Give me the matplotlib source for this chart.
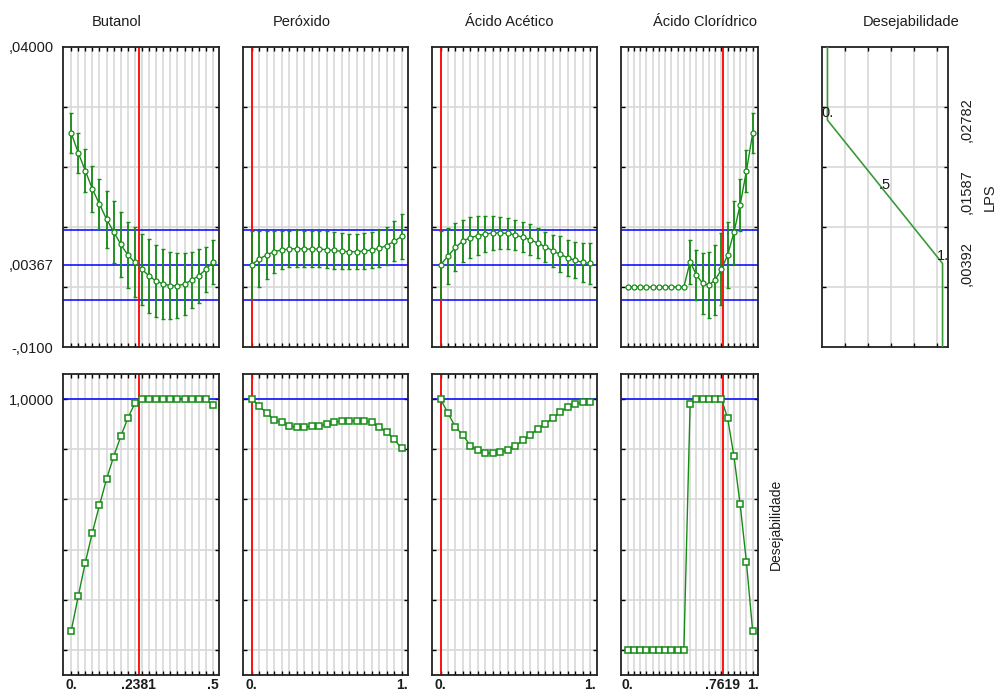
import numpy as np
import matplotlib
matplotlib.use('Agg')
import matplotlib.pyplot as plt

plt.rcParams['font.family'] = ['Liberation Sans', 'DejaVu Sans']

# factor levels (21 grid points per factor)
levels_half = [0.0, 0.025, 0.05, 0.075, 0.1, 0.125, 0.15, 0.175, 0.2, 0.225, 0.25,
               0.275, 0.3, 0.325, 0.35, 0.375, 0.4, 0.425, 0.45, 0.475, 0.5]
levels_one = [0.0, 0.05, 0.1, 0.15, 0.2, 0.25, 0.3, 0.35, 0.4, 0.45, 0.5,
              0.55, 0.6, 0.65, 0.7, 0.75, 0.8, 0.85, 0.9, 0.95, 1.0]

factors = ['Butanol', 'Peróxido', 'Ácido Acético', 'Ácido Clorídrico']
current = [0.2381, 0.0, 0.0, 0.7619]
current_labels = [['0.', '.2381', '.5'], ['0.', '1.'], ['0.', '1.'], ['0.', '.7619', '1.']]
current_ticks = [[0.0, 0.2381, 0.5], [0.0, 1.0], [0.0, 1.0], [0.0, 0.7619, 1.0]]

# predicted LPS for each factor
butanol_lps = [0.02572, 0.02239, 0.01939, 0.01633, 0.01383, 0.01128, 0.00922, 0.00711,
               0.00533, 0.00411, 0.00294, 0.00183, 0.00100, 0.00050, 0.00022, 0.00022,
               0.00050, 0.00117, 0.00183, 0.00294, 0.00417]
peroxido_lps = [0.00367, 0.00467, 0.00533, 0.00589, 0.00617, 0.00633, 0.00639, 0.00633,
                0.00633, 0.00633, 0.00622, 0.00611, 0.00594, 0.00589, 0.00589, 0.00600,
                0.00617, 0.00644, 0.00689, 0.00761, 0.00844]
acetico_lps = [0.00367, 0.00517, 0.00661, 0.00767, 0.00822, 0.00856, 0.00883, 0.00900,
               0.00900, 0.00894, 0.00867, 0.00828, 0.00789, 0.00733, 0.00672, 0.00606,
               0.00544, 0.00489, 0.00444, 0.00411, 0.00394]
cloridrico_lps = [0.0, 0.0, 0.0, 0.0, 0.0, 0.0, 0.0, 0.0, 0.0, 0.0,
                  0.00422, 0.00200, 0.00061, 0.00033, 0.00117, 0.00294, 0.00533,
                  0.00911, 0.01372, 0.01933, 0.02561]

# confidence half-widths
butanol_err = [0.00333, 0.00333, 0.00360, 0.00383, 0.00417, 0.00472, 0.00517, 0.00544,
               0.00556, 0.00583, 0.00594, 0.00611, 0.00600, 0.00578, 0.00556, 0.00539,
               0.00517, 0.00461, 0.00444, 0.00378, 0.00367]
peroxido_err = [0.00572, 0.00472, 0.00400, 0.00350, 0.00317, 0.00306, 0.00306, 0.00306,
                0.00306, 0.00306, 0.00306, 0.00306, 0.00300, 0.00294, 0.00294, 0.00294,
                0.00306, 0.00311, 0.00317, 0.00333, 0.00378]
acetico_err = [0.00572, 0.00472, 0.00400, 0.00344, 0.00344, 0.00322, 0.00294, 0.00278,
               0.00267, 0.00261, 0.00250, 0.00250, 0.00261, 0.00250, 0.00250, 0.00267,
               0.00300, 0.00300, 0.00300, 0.00328, 0.00339]
cloridrico_err = [0.0, 0.0, 0.0, 0.0, 0.0, 0.0, 0.0, 0.0, 0.0, 0.0,
                  0.00367, 0.00417, 0.00511, 0.00544, 0.00589, 0.00600, 0.00556,
                  0.00528, 0.00433, 0.00356, 0.00333]

# desirability of each prediction
butanol_d = [0.074, 0.213, 0.348, 0.468, 0.577, 0.681, 0.771, 0.851, 0.924, 0.984, 1.0,
             1.0, 1.0, 1.0, 1.0, 1.0, 1.0, 1.0, 1.0, 1.0, 0.977]
peroxido_d = [1.0, 0.973, 0.944, 0.917, 0.907, 0.893, 0.888, 0.888, 0.893, 0.893, 0.900,
              0.907, 0.913, 0.913, 0.913, 0.913, 0.907, 0.888, 0.869, 0.840, 0.804]
acetico_d = [1.0, 0.944, 0.888, 0.857, 0.813, 0.797, 0.784, 0.784, 0.789, 0.797, 0.813,
             0.835, 0.857, 0.881, 0.901, 0.924, 0.947, 0.967, 0.980, 0.987, 0.990]
cloridrico_d = [0.0, 0.0, 0.0, 0.0, 0.0, 0.0, 0.0, 0.0, 0.0, 0.0,
                0.98, 1.0, 1.0, 1.0, 1.0, 1.0, 0.924, 0.773, 0.580, 0.350, 0.075]

lps_pred = 0.00367
lps_upper = 0.0095
lps_lower = -0.00216

# desirability function for LPS
desej_func_d = [0.0, 0.0, 1.0, 1.0]
desej_func_lps = [0.04, 0.02782, 0.00392, -0.01]
desej_marks = [(0.0, 0.02782, '0.'), (0.5, 0.01587, '.5'), (1.0, 0.00392, '1.')]

W, H = 997, 695
GREEN = '#168c16'
TXT = '#1c1c1c'
GRID = '#d8d8d8'


def px_axes(fig, x0, y0, x1, y1):
    return fig.add_axes([x0 / W, 1 - y1 / H, (x1 - x0) / W, (y1 - y0) / H])


def frame(ax):
    for s in ax.spines.values():
        s.set_linewidth(1.3)
        s.set_color('#222222')
    ax.set_axisbelow(True)
    ax.grid(True, which='major', color=GRID, lw=1.2)
    ax.tick_params(which='major', direction='in', top=True, right=True,
                   length=3, width=1, color='black', labelleft=False, labelbottom=False)


fig = plt.figure(figsize=(W / 100, H / 100), dpi=100)

cols = [(63.3, 219.3), (243.3, 408.3), (432.3, 596.7), (620.7, 758.3)]
title_x = [117, 302, 509, 705]
levels_all = [levels_half, levels_one, levels_one, levels_one]
lps_all = [butanol_lps, peroxido_lps, acetico_lps, cloridrico_lps]
err_all = [butanol_err, peroxido_err, acetico_err, cloridrico_err]
d_all = [butanol_d, peroxido_d, acetico_d, cloridrico_d]

for i in range(4):
    x0, x1 = cols[i]
    lev = np.array(levels_all[i])
    xmax = lev[-1]

    # top row: predicted LPS
    ax = px_axes(fig, x0, 47, x1, 347)
    frame(ax)
    ax.set_xlim(-0.055 * xmax, 1.045 * xmax)
    ax.set_ylim(-0.01, 0.04)
    ax.set_xticks(lev)
    ax.set_yticks([0.0, 0.01, 0.02, 0.03])
    for yv in (lps_upper, lps_pred, lps_lower):
        ax.axhline(yv, color='#0000ff', lw=1.1, zorder=2)
    ax.axvline(current[i], color='red', lw=1.3, zorder=2)
    y = np.array(lps_all[i])
    e = np.array(err_all[i])
    m = e > 0
    ax.errorbar(lev[m], y[m], yerr=e[m], fmt='none', ecolor=GREEN, elinewidth=1.3,
                capsize=1.6, capthick=1, zorder=3)
    ax.plot(lev, y, color=GREEN, lw=1, marker='o', ms=3.6, mfc='white', mec=GREEN,
            mew=0.9, zorder=4)
    if i == 0:
        ax.yaxis.remove_overlapping_locs = False
        ax.set_yticks([-0.01, lps_pred, 0.04], minor=True)
        ax.set_yticklabels(['-,0100', ',00367', ',04000'], minor=True)
        ax.tick_params(which='minor', length=0, pad=7, labelsize=10.5, labelcolor=TXT)
    fig.text(title_x[i] / W, 1 - 22 / H, factors[i], ha='center', va='center',
             fontsize=10.5, color=TXT)

    # bottom row: desirability
    ax = px_axes(fig, x0, 374, x1, 675)
    frame(ax)
    ax.set_xlim(-0.055 * xmax, 1.045 * xmax)
    ax.set_ylim(-0.1, 1.1)
    ax.set_xticks(lev)
    ax.set_yticks([0.0, 0.2, 0.4, 0.6, 0.8, 1.0])
    ax.axhline(1.0, color='#0000ff', lw=1.1, zorder=2)
    ax.axvline(current[i], color='red', lw=1.3, zorder=2.5)
    ax.plot(lev, d_all[i], color=GREEN, lw=1, marker='s', ms=4, mfc='white',
            mec=GREEN, mew=1.1, zorder=4)
    ax.xaxis.remove_overlapping_locs = False
    ax.set_xticks(current_ticks[i], minor=True)
    ax.set_xticklabels(current_labels[i], minor=True, fontweight='bold')
    ax.tick_params(which='minor', axis='x', length=0, pad=2.5, labelsize=10,
                   labelcolor=TXT, labelbottom=True)
    if i == 0:
        ax.yaxis.remove_overlapping_locs = False
        ax.set_yticks([1.0], minor=True)
        ax.set_yticklabels(['1,0000'], minor=True)
        ax.tick_params(which='minor', axis='y', length=0, pad=7, labelsize=10.5,
                       labelcolor=TXT)

# desirability function panel
ax = px_axes(fig, 821.7, 47, 948.3, 347)
frame(ax)
ax.set_xlim(-0.05, 1.05)
ax.set_ylim(-0.01, 0.04)
ax.set_xticks([0.15, 0.35, 0.55, 0.75, 0.95])
ax.set_yticks([0.0, 0.01, 0.02, 0.03])
ax.plot(desej_func_d, desej_func_lps, color='#3a9a3a', lw=1.2, zorder=3)
for dx, ly, lab in desej_marks:
    ax.text(dx, ly, lab, ha='center', va='bottom', fontsize=10.5, color=TXT, zorder=4)
ax.yaxis.remove_overlapping_locs = False
ax.set_yticks([0.00392, 0.01587, 0.02782], minor=True)
ax.set_yticklabels([',00392', ',01587', ',02782'], minor=True, rotation=90, va='center')
ax.tick_params(which='minor', axis='y', length=0, pad=8, labelsize=10.5, labelcolor=TXT,
               labelleft=False, labelright=True)
fig.text(911 / W, 1 - 22 / H, 'Desejabilidade', ha='center', va='center',
         fontsize=10.5, color=TXT)
fig.text(990 / W, 1 - 197 / H, 'LPS', ha='center', va='center', rotation=90,
         fontsize=10.5, color=TXT)
fig.text(776 / W, 1 - 524.5 / H, 'Desejabilidade', ha='center', va='center',
         rotation=90, fontsize=10, color=TXT)

fig.savefig('out.png', dpi=100)
